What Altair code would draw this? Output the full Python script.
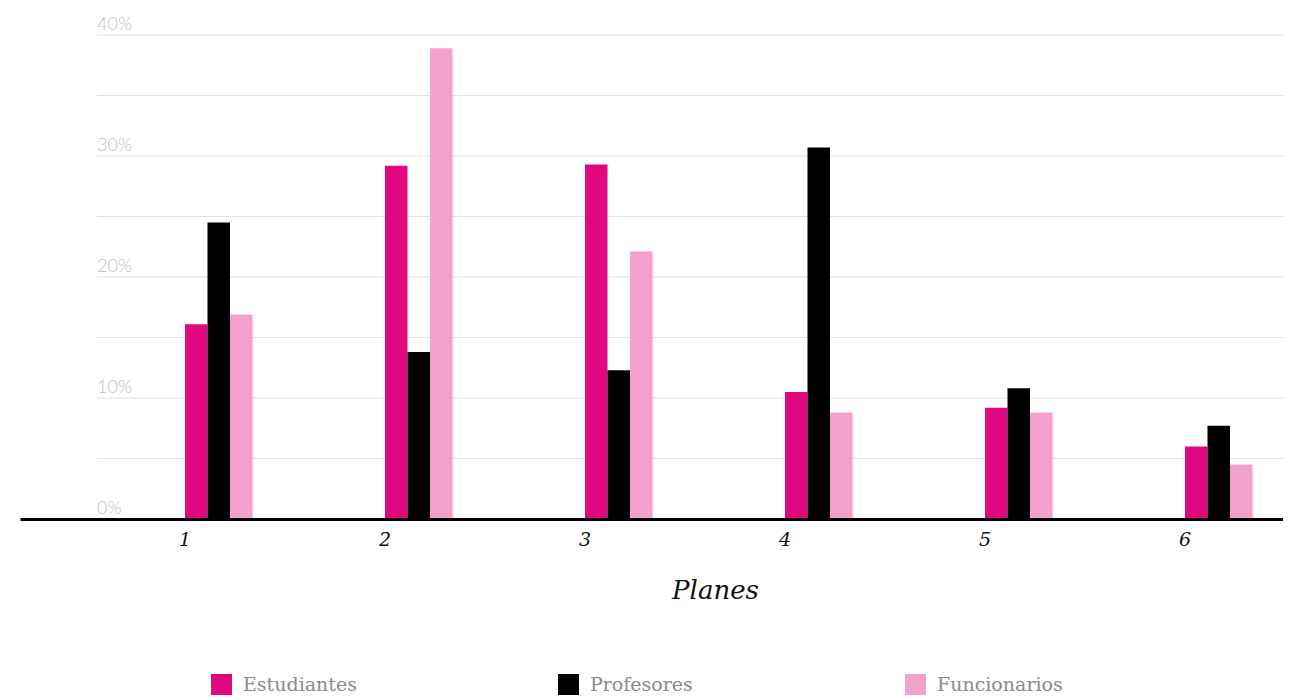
import altair as alt
import pandas as pd

planes = ["1", "2", "3", "4", "5", "6"]
series = ["Estudiantes", "Profesores", "Funcionarios"]
estudiantes = [16.1, 29.2, 29.3, 10.5, 9.2, 6.0]
profesores = [24.5, 13.8, 12.3, 30.7, 10.8, 7.7]
funcionarios = [16.9, 38.9, 22.1, 8.8, 8.8, 4.5]
colors = ["#e0077f", "#000000", "#f2a0cc"]

grid_values = [0, 5, 10, 15, 20, 25, 30, 35, 40]
tick_values = [0, 10, 20, 30, 40]
tick_labels = ["0%", "10%", "20%", "30%", "40%"]

rows = []
for name, vals in zip(series, [estudiantes, profesores, funcionarios]):
    for p, v in zip(planes, vals):
        rows.append({"plan": p, "serie": name, "valor": v})
df = pd.DataFrame(rows)
grid_df = pd.DataFrame({"g": grid_values})
tick_df = pd.DataFrame({"t": tick_values, "lab": tick_labels})
plan_df = pd.DataFrame({"plan": planes})

W, H = 1263, 484
yscale = alt.Scale(domain=[0, 40], nice=False, zero=True)
xscale = alt.Scale(paddingInner=0.6625, paddingOuter=0.48875, align=0.844)
SERIF = "DejaVu Serif"

grid = alt.Chart(grid_df).mark_rule(color="#e2e2e2", strokeWidth=1).encode(
    y=alt.Y("g:Q", scale=yscale, axis=None),
    x=alt.value(77),
    x2=alt.value(W),
)

ylabels = alt.Chart(tick_df).mark_text(
    align="left", baseline="alphabetic", dy=-5,
    font="Lato", fontSize=18, fontWeight=300, color="#c0c0c0",
).encode(
    y=alt.Y("t:Q", scale=yscale, axis=None),
    x=alt.value(77),
    text="lab:N",
)

bars = alt.Chart(df).mark_bar().encode(
    x=alt.X(
        "plan:N",
        sort=planes,
        scale=xscale,
        axis=alt.Axis(
            title="Planes",
            labels=False,
            ticks=False,
            domain=True,
            domainColor="#000000",
            domainWidth=3,
            grid=False,
            zindex=1,
            titleFont=SERIF,
            titleFontStyle="italic",
            titleFontWeight="normal",
            titleFontSize=26,
            titleColor="#111111",
            titleX=695,
            titleY=79,
            titleBaseline="alphabetic",
            titleAlign="center",
        ),
    ),
    xOffset=alt.XOffset("serie:N", sort=series, scale=alt.Scale(paddingInner=0, paddingOuter=0)),
    y=alt.Y("valor:Q", scale=yscale, axis=None),
    color=alt.Color(
        "serie:N",
        sort=series,
        scale=alt.Scale(domain=series, range=colors),
        legend=alt.Legend(
            title=None,
            orient="none",
            legendX=191,
            legendY=639,
            direction="horizontal",
            columns=3,
            gridAlign="all",
            columnPadding=189,
            symbolType="square",
            symbolSize=441,
            symbolStrokeWidth=0,
            symbolOpacity=1,
            labelFont=SERIF,
            labelFontSize=19,
            labelColor="#8a8a8a",
            labelOffset=11,
            labelLimit=300,
        ),
    ),
)

xlabels = alt.Chart(plan_df).mark_text(
    align="center", baseline="alphabetic", dx=-33.75,
    font=SERIF, fontStyle="italic", fontSize=19, color="#111111",
).encode(
    x=alt.X("plan:N", sort=planes, scale=xscale),
    y=alt.value(H + 27),
    text="plan:N",
)

chart = alt.layer(grid, ylabels, bars, xlabels).properties(
    width=W,
    height=H,
    padding={"left": 12, "top": 27, "right": 0, "bottom": 180},
    autosize=alt.AutoSizeParams(type="none"),
).configure_view(stroke=None)

chart.save("out.html", embed_options={"renderer": "svg", "actions": False})
